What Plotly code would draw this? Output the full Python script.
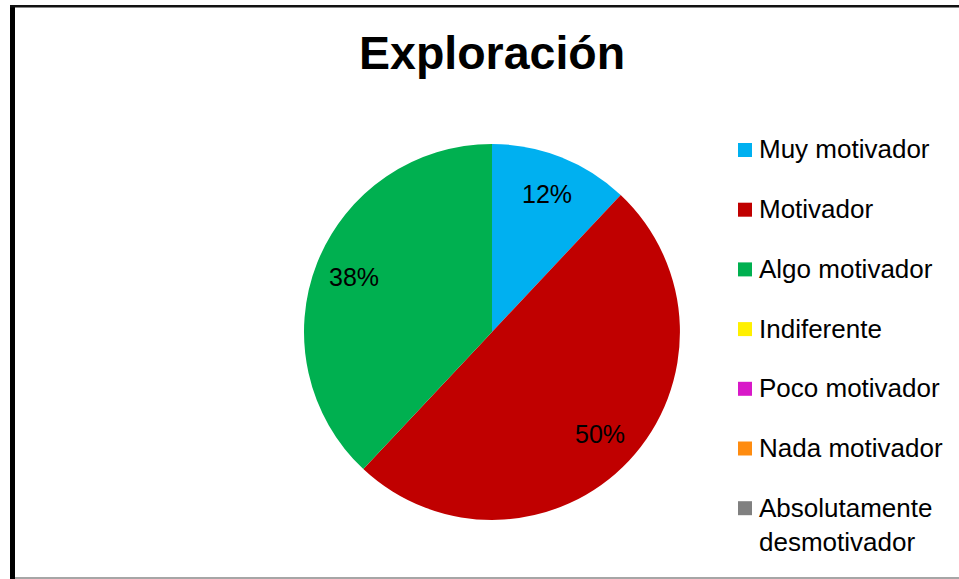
import math
import plotly.graph_objects as go

# Survey answers for the "Exploración" item
categories = [
    "Muy motivador",
    "Motivador",
    "Algo motivador",
    "Indiferente",
    "Poco motivador",
    "Nada motivador",
    "Absolutamente desmotivador",
]
percentages = [12, 50, 38, 0, 0, 0, 0]
colors = ["#00B0F0", "#C00000", "#00B050", "#FFF000", "#D819C8", "#FF8C10", "#808080"]
legend_names = [
    "Muy motivador",
    "Motivador",
    "Algo motivador",
    "Indiferente",
    "Poco motivador",
    "Nada motivador",
    "Absolutamente<br>desmotivador",
]

W, H = 959, 579
FONT = "Liberation Sans, Arial, sans-serif"

# pie placement in pixels
cx, cy, rad = 492, 332, 188


def px(x):
    return x / W


def py(y):
    return 1 - y / H


fig = go.Figure()
fig.add_trace(go.Pie(
    labels=categories,
    values=percentages,
    marker=dict(colors=colors, line=dict(width=0)),
    sort=False,
    direction="clockwise",
    rotation=0,
    textinfo="none",
    hoverinfo="label+percent",
    showlegend=False,
    domain=dict(x=[px(cx - rad), px(cx + rad)], y=[py(cy + rad), py(cy - rad)]),
))

annotations = []
shapes = []

# percentage labels placed along each slice's bisector
total = sum(percentages)
cum = 0
for v in percentages:
    if v > 0:
        theta = 2 * math.pi * (cum + v / 2) / total
        lx = cx + 0.79 * rad * math.sin(theta)
        ly = cy - 0.79 * rad * math.cos(theta)
        annotations.append(dict(
            x=px(lx), y=py(ly), xref="paper", yref="paper",
            text=f"{round(100 * v / total)}%", showarrow=False,
            xanchor="center", yanchor="middle",
            font=dict(family=FONT, size=25, color="#000000"),
        ))
    cum += v

# title
annotations.append(dict(
    x=px(cx), y=py(53), xref="paper", yref="paper",
    text="<b>Exploración</b>", showarrow=False,
    xanchor="center", yanchor="middle",
    font=dict(family=FONT, size=46.5, color="#000000"),
))

# legend drawn as squares and labels
leg_y0, leg_step = 150, 59.7
for i, (name, col) in enumerate(zip(legend_names, colors)):
    yc = leg_y0 + i * leg_step
    shapes.append(dict(
        type="rect", xref="paper", yref="paper",
        x0=px(738), x1=px(752), y0=py(yc - 7), y1=py(yc + 7),
        fillcolor=col, line=dict(width=0),
    ))
    annotations.append(dict(
        x=px(757), y=py(yc - 17.5), xref="paper", yref="paper",
        text=name, showarrow=False, align="left",
        xanchor="left", yanchor="top",
        font=dict(family=FONT, size=26, color="#000000"),
    ))

# chart frame
shapes.append(dict(type="rect", xref="paper", yref="paper",
                   x0=px(10), x1=px(15), y0=0, y1=py(5),
                   fillcolor="#000000", line=dict(width=0)))
shapes.append(dict(type="rect", xref="paper", yref="paper",
                   x0=px(10), x1=1, y0=py(7.5), y1=py(5),
                   fillcolor="#111111", line=dict(width=0)))
shapes.append(dict(type="line", xref="paper", yref="paper",
                   x0=px(15), x1=1, y0=py(578), y1=py(578),
                   line=dict(color="#888888", width=1.5)))

fig.update_layout(
    width=W, height=H,
    margin=dict(l=0, r=0, t=0, b=0),
    paper_bgcolor="#FFFFFF",
    plot_bgcolor="#FFFFFF",
    annotations=annotations,
    shapes=shapes,
    showlegend=False,
)

fig.write_html("out.html")
